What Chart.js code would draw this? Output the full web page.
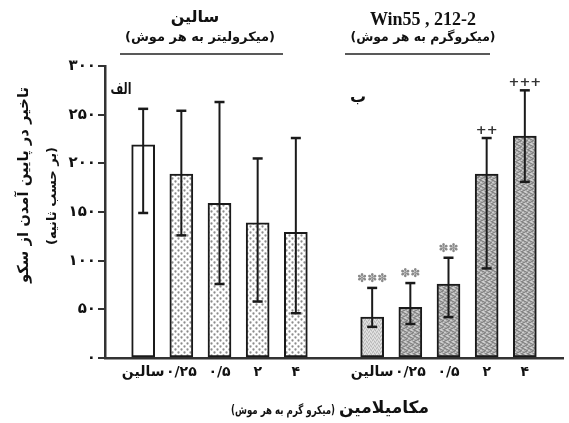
<!DOCTYPE html>
<html>
<head>
<meta charset="utf-8">
<script src="https://cdn.jsdelivr.net/npm/chart.js@4/dist/chart.umd.min.js"></script>
<style>
  html, body { margin: 0; padding: 0; background: #fff; }
  #wrap { width: 569px; height: 423px; position: relative; }
</style>
</head>
<body>
<div id="wrap"><canvas id="c" width="569" height="423"></canvas></div>
<script>
// ---- data ----
const categories = ['', 'سالین', '۰/۲۵', '۰/۵', '۲', '۴', '', 'سالین', '۰/۲۵', '۰/۵', '۲', '۴', ''];
const yTickLabels = ['۰', '۵۰', '۱۰۰', '۱۵۰', '۲۰۰', '۲۵۰', '۳۰۰'];

const salineMeans = [219, 189, 159, 139, 129];
const salineErrHigh = [256, 254, 263, 205, 226];
const salineErrLow = [149, 126, 76, 58, 46];

const winMeans = [42, 52, 76, 189, 228];
const winErrHigh = [72, 77, 103, 226, 275];
const winErrLow = [32, 35, 42, 92, 181];
const winMarks = ['✽✽✽', '✽✽', '✽✽', '++', '+++'];

const headerLeft = ['سالین', '(میکرولیتر به هر موش)'];
const headerRight = ['Win55 , 212-2', '(میکروگرم به هر موش)'];
const panelLabels = ['الف', 'ب'];
const yTitle = ['تاخیر در پایین آمدن از سکو', '(بر حسب ثانیه)'];
const xTitleMain = 'مکامیلامین';
const xTitleSub = '(میکرو گرم به هر موش)';

// ---- assembled series ----
const values = [null, ...salineMeans, null, ...winMeans, null];
const errHigh = [null, ...salineErrHigh, null, ...winErrHigh, null];
const errLow = [null, ...salineErrLow, null, ...winErrLow, null];
const marks = [null, null, null, null, null, null, null, ...winMarks, null];

// ---- fill patterns ----
function makePattern(size, draw) {
  const c = document.createElement('canvas');
  c.width = size; c.height = size;
  const g = c.getContext('2d');
  draw(g, size);
  return g.createPattern(c, 'repeat');
}
const dotPat = makePattern(6, (g, s) => {
  g.fillStyle = '#ffffff'; g.fillRect(0, 0, s, s);
  g.fillStyle = '#8c8c8c';
  g.beginPath(); g.arc(1.5, 1.5, 1.15, 0, Math.PI * 2); g.fill();
  g.beginPath(); g.arc(4.5, 4.5, 1.15, 0, Math.PI * 2); g.fill();
});
const lightPat = makePattern(4, (g, s) => {
  g.fillStyle = '#d2d2d2'; g.fillRect(0, 0, s, s);
  g.fillStyle = '#b8b8b8';
  g.fillRect(0, 0, 1, 1); g.fillRect(2, 1, 1, 1); g.fillRect(1, 3, 1, 1); g.fillRect(3, 2, 1, 1);
  g.fillStyle = '#e6e6e6';
  g.fillRect(1, 1, 1, 1); g.fillRect(3, 0, 1, 1); g.fillRect(0, 2, 1, 1); g.fillRect(2, 3, 1, 1);
});
const darkPat = makePattern(6, (g, s) => {
  g.fillStyle = '#acacac'; g.fillRect(0, 0, s, s);
  g.fillStyle = '#868686';
  g.fillRect(0, 0, 2, 1); g.fillRect(2, 1, 2, 1); g.fillRect(4, 2, 2, 1);
  g.fillRect(3, 3, 2, 1); g.fillRect(1, 4, 2, 1); g.fillRect(0, 5, 1, 1); g.fillRect(5, 5, 1, 1);
  g.fillStyle = '#cecece';
  g.fillRect(3, 0, 2, 1); g.fillRect(0, 2, 2, 1); g.fillRect(5, 4, 1, 1); g.fillRect(2, 5, 2, 1);
});
const fills = [null, '#ffffff', dotPat, dotPat, dotPat, dotPat, null, lightPat, darkPat, darkPat, darkPat, darkPat, null];

const FA = '"DejaVu Sans", sans-serif';

// draw text squeezed horizontally to a target width (centre anchored)
function fitText(ctx, text, cx, cy, targetW) {
  const w = ctx.measureText(text).width;
  const k = Math.min(1, targetW / w);
  ctx.save();
  ctx.translate(cx, cy);
  ctx.scale(k, 1);
  ctx.textAlign = 'center';
  ctx.fillText(text, 0, 0);
  ctx.restore();
}

const decorPlugin = {
  id: 'decor',
  afterDatasetsDraw(chart) {
    const { ctx, scales: { y } } = chart;
    const meta = chart.getDatasetMeta(0);
    ctx.save();
    ctx.strokeStyle = '#1a1a1a';
    for (let i = 0; i < values.length; i++) {
      if (values[i] === null) continue;
      const cx = meta.data[i].x;
      const yt = y.getPixelForValue(errHigh[i]);
      const yb = y.getPixelForValue(errLow[i]);
      ctx.lineWidth = 2;
      ctx.beginPath(); ctx.moveTo(cx, yt); ctx.lineTo(cx, yb); ctx.stroke();
      ctx.lineWidth = 2.5;
      ctx.beginPath(); ctx.moveTo(cx - 5, yt); ctx.lineTo(cx + 5, yt); ctx.stroke();
      ctx.beginPath(); ctx.moveTo(cx - 5, yb); ctx.lineTo(cx + 5, yb); ctx.stroke();
      if (marks[i]) {
        const isPlus = marks[i].indexOf('+') >= 0;
        ctx.fillStyle = isPlus ? '#333' : '#8a8a8a';
        ctx.font = isPlus ? 'bold 13px ' + FA : '12px ' + FA;
        ctx.textAlign = 'center';
        ctx.textBaseline = 'alphabetic';
        ctx.fillText(marks[i], cx, yt - (isPlus ? 4 : 6));
      }
    }
    ctx.restore();
  },
  afterDraw(chart) {
    const { ctx } = chart;
    ctx.save();
    ctx.fillStyle = '#111';
    ctx.textAlign = 'center';
    ctx.textBaseline = 'middle';
    // headers
    ctx.font = 'bold 16px ' + FA;
    ctx.fillText(headerLeft[0], 195, 18);
    ctx.font = 'bold 13px ' + FA;
    fitText(ctx, headerLeft[1], 200, 38, 156);
    ctx.font = 'bold 18px "Liberation Serif", serif';
    ctx.fillText(headerRight[0], 423, 20);
    ctx.font = 'bold 13px ' + FA;
    fitText(ctx, headerRight[1], 423, 38, 145);
    ctx.strokeStyle = '#222';
    ctx.lineWidth = 1.5;
    ctx.beginPath(); ctx.moveTo(120, 54); ctx.lineTo(283, 54); ctx.stroke();
    ctx.beginPath(); ctx.moveTo(345, 54); ctx.lineTo(490, 54); ctx.stroke();
    // panel labels
    ctx.font = 'bold 16px ' + FA;
    fitText(ctx, panelLabels[0], 121, 90, 21);
    ctx.font = 'bold 16px ' + FA;
    ctx.fillText(panelLabels[1], 358, 98);
    // y title
    ctx.save();
    ctx.translate(24, 185);
    ctx.rotate(-Math.PI / 2);
    ctx.font = 'bold 15px ' + FA;
    fitText(ctx, yTitle[0], 0, 0, 196);
    ctx.restore();
    ctx.save();
    ctx.translate(53, 196);
    ctx.rotate(-Math.PI / 2);
    ctx.font = 'bold 13px ' + FA;
    fitText(ctx, yTitle[1], 0, 0, 102);
    ctx.restore();
    // x title
    ctx.font = 'bold 17px ' + FA;
    fitText(ctx, xTitleMain, 384, 409, 94);
    ctx.font = 'bold 12px ' + FA;
    fitText(ctx, xTitleSub, 283, 411, 104);
    ctx.restore();
  }
};

new Chart(document.getElementById('c'), {
  type: 'bar',
  data: {
    labels: categories,
    datasets: [{
      data: values,
      backgroundColor: fills,
      borderColor: '#1a1a1a',
      borderWidth: 2,
      borderSkipped: false,
      barThickness: 23
    }]
  },
  options: {
    responsive: false,
    animation: false,
    events: [],
    layout: { padding: { top: 66, right: 2, left: 0, bottom: 0 } },
    plugins: { legend: { display: false }, tooltip: { enabled: false }, title: { display: false } },
    scales: {
      x: {
        type: 'category',
        offset: false,
        grid: { display: false, drawTicks: false },
        border: { display: true, color: '#333', width: 2.5 },
        ticks: {
          autoSkip: false,
          maxRotation: 0,
          padding: 6,
          color: '#111',
          font: { family: 'DejaVu Sans', size: 14, weight: 'bold' }
        },
        afterFit(s) { s.height = 65; }
      },
      y: {
        min: 0, max: 300,
        ticks: {
          stepSize: 50,
          padding: 2,
          color: '#111',
          font: { family: 'DejaVu Sans', size: 15, weight: 'bold' },
          callback: (v, i) => yTickLabels[i]
        },
        grid: { drawOnChartArea: false, drawTicks: true, tickLength: 7, color: '#333', lineWidth: 2 },
        border: { display: true, color: '#333', width: 2.5 },
        afterFit(s) { s.width = 105; }
      }
    }
  },
  plugins: [decorPlugin]
});
</script>
</body>
</html>
